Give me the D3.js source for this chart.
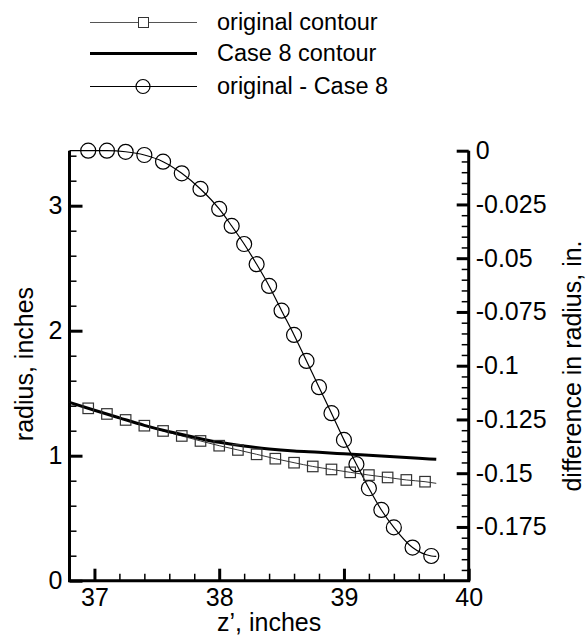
<!DOCTYPE html>
<html><head><meta charset="utf-8">
<script src="https://cdn.jsdelivr.net/npm/d3@7"></script>
<style>
html,body{margin:0;padding:0;background:#fff;}
text{font-family:"Liberation Sans",Arial,Helvetica,sans-serif;fill:#000;}
</style></head>
<body><svg id="c" width="586" height="636"></svg>
<script>
// ---- data ----
const seriesNames = ["original contour", "Case 8 contour", "original - Case 8"];
// original contour (squares), left axis
const origX = [36.8, 36.95, 37.10, 37.25, 37.40, 37.55, 37.70, 37.85, 38.00, 38.15, 38.30, 38.45, 38.60, 38.75, 38.90, 39.05, 39.20, 39.35, 39.50, 39.65, 39.74];
const origY = [1.424, 1.379, 1.334, 1.286, 1.240, 1.198, 1.158, 1.118, 1.080, 1.046, 1.011, 0.976, 0.944, 0.914, 0.890, 0.867, 0.845, 0.826, 0.806, 0.792, 0.779];
const origMarker = [false, true, true, true, true, true, true, true, true, true, true, true, true, true, true, true, true, true, true, true, false];
// Case 8 contour (thick line), left axis
const caseX = [36.8, 37.0, 37.2, 37.4, 37.6, 37.8, 38.0, 38.2, 38.4, 38.6, 38.8, 39.0, 39.2, 39.4, 39.6, 39.74];
const caseY = [1.427, 1.364, 1.303, 1.243, 1.191, 1.147, 1.107, 1.077, 1.053, 1.037, 1.027, 1.015, 1.003, 0.991, 0.979, 0.971];
// difference (circles), right axis
const diffX = [36.8, 36.95, 37.10, 37.25, 37.40, 37.55, 37.70, 37.85, 38.00, 38.10, 38.20, 38.30, 38.40, 38.50, 38.60, 38.70, 38.80, 38.90, 39.00, 39.10, 39.20, 39.30, 39.40, 39.55, 39.70, 39.74];
const diffY = [0, 0, 0, -0.0005, -0.0020, -0.0051, -0.0105, -0.0178, -0.0271, -0.0350, -0.0434, -0.0528, -0.0629, -0.0744, -0.0857, -0.0978, -0.1100, -0.1221, -0.1345, -0.1458, -0.1570, -0.1671, -0.1752, -0.1846, -0.1885, -0.1887];
const diffMarker = diffX.map((d, i) => i > 0 && i < diffX.length - 1);

const xTicks = [37, 38, 39, 40];
const yLeftTicks = [0, 1, 2, 3];
const yRightTicks = [0, -0.025, -0.05, -0.075, -0.1, -0.125, -0.15, -0.175];
const yRightLabels = ["0", "-0.025", "-0.05", "-0.075", "-0.1", "-0.125", "-0.15", "-0.175"];
const xTitle = "z\u2019, inches";
const yLeftTitle = "radius, inches";
const yRightTitle = "difference in radius, in.";

// ---- layout ----
const L = 69.5, R = 468.7, T = 150.7, B = 580.7;
const svg = d3.select("#c");
const x = d3.scaleLinear().domain([36.8, 40]).range([L, R]);
const yl = d3.scaleLinear().domain([0, 3.44]).range([B, T]);
const yr = d3.scaleLinear().domain([-0.2, 0]).range([B, T]);

const tickFont = 25;

function styleAxis(g, w) {
  g.select(".domain").remove();
  g.selectAll(".tick line").attr("stroke", "#000").attr("stroke-width", w);
  g.selectAll(".tick text").style("font-size", tickFont + "px").attr("fill", "#000");
}

// minor ticks
const xMinor = d3.range(36.8, 40.0001, 0.2).filter(v => Math.abs(v - Math.round(v)) > 1e-6);
const ylMinor = d3.range(0.2, 3.44, 0.2).filter(v => Math.abs(v - Math.round(v)) > 1e-6);
const yrMinor = d3.range(-0.2, 0.0001, 0.005).filter(v => Math.abs(v / 0.025 - Math.round(v / 0.025)) > 1e-6);

svg.append("g").attr("transform", `translate(0,${B})`)
  .call(d3.axisBottom(x).tickValues(xMinor).tickSize(-7).tickFormat(""))
  .call(g => styleAxis(g, 1.5));
svg.append("g").attr("transform", `translate(0,${B})`)
  .call(d3.axisBottom(x).tickValues(xTicks).tickSize(-12).tickSizeOuter(0).tickPadding(8).tickFormat(d3.format("d")))
  .call(g => styleAxis(g, 3));

svg.append("g").attr("transform", `translate(${L},0)`)
  .call(d3.axisLeft(yl).tickValues(ylMinor).tickSize(-7).tickFormat(""))
  .call(g => styleAxis(g, 1.5));
svg.append("g").attr("transform", `translate(${L},0)`)
  .call(d3.axisLeft(yl).tickValues(yLeftTicks).tickSize(-13).tickPadding(7).tickFormat(d3.format("d")))
  .call(g => styleAxis(g, 3));

svg.append("g").attr("transform", `translate(${R},0)`)
  .call(d3.axisRight(yr).tickValues(yrMinor).tickSize(-7).tickFormat(""))
  .call(g => styleAxis(g, 1.5));
svg.append("g").attr("transform", `translate(${R},0)`)
  .call(d3.axisRight(yr).tickValues(yRightTicks).tickSize(-12).tickPadding(7).tickFormat((d, i) => yRightLabels[i]))
  .call(g => styleAxis(g, 3));

// axis lines
svg.append("path").attr("d", `M${L},${T}V${B}H${R}V${T}`)
  .attr("fill", "none").attr("stroke", "#000").attr("stroke-width", 3);

// ---- series ----
const curve = d3.curveMonotoneX;
const lineOrig = d3.line().x(i => x(origX[i])).y(i => yl(origY[i])).curve(curve);
const lineCase = d3.line().x(i => x(caseX[i])).y(i => yl(caseY[i])).curve(curve);
const lineDiff = d3.line().x(i => x(diffX[i])).y(i => yr(diffY[i])).curve(curve);

svg.append("path").attr("d", lineOrig(d3.range(origX.length)))
  .attr("fill", "none").attr("stroke", "#333").attr("stroke-width", 1);
svg.append("path").attr("d", lineCase(d3.range(caseX.length)))
  .attr("fill", "none").attr("stroke", "#000").attr("stroke-width", 3);
svg.append("path").attr("d", lineDiff(d3.range(diffX.length)))
  .attr("fill", "none").attr("stroke", "#000").attr("stroke-width", 1.2);

const sq = 10.5;
svg.append("g").selectAll("rect")
  .data(d3.range(origX.length).filter(i => origMarker[i]))
  .join("rect")
  .attr("x", i => x(origX[i]) - sq / 2).attr("y", i => yl(origY[i]) - sq / 2)
  .attr("width", sq).attr("height", sq)
  .attr("fill", "none").attr("stroke", "#333").attr("stroke-width", 1.2);

svg.append("g").selectAll("circle")
  .data(d3.range(diffX.length).filter(i => diffMarker[i]))
  .join("circle")
  .attr("cx", i => x(diffX[i])).attr("cy", i => yr(diffY[i]))
  .attr("r", 7.5)
  .attr("fill", "none").attr("stroke", "#000").attr("stroke-width", 1.2);

// ---- titles ----
svg.append("text").attr("x", (L + R) / 2).attr("y", 631).attr("text-anchor", "middle")
  .style("font-size", "25px").text(xTitle);
svg.append("text").attr("transform", `translate(33,${364}) rotate(-90)`).attr("text-anchor", "middle")
  .style("font-size", "25px").text(yLeftTitle);
svg.append("text").attr("transform", `translate(581,${366}) rotate(-90)`).attr("text-anchor", "middle")
  .style("font-size", "25px").text(yRightTitle);

// ---- legend ----
const legY = [22, 53, 86];
const lg = svg.append("g");
seriesNames.forEach((name, i) => {
  const yy = legY[i];
  lg.append("line").attr("x1", 90).attr("x2", 197).attr("y1", yy + 0.5).attr("y2", yy + 0.5)
    .attr("stroke", i === 0 ? "#555" : "#000").attr("stroke-width", i === 1 ? 3 : 1);
  if (i === 0) lg.append("rect").attr("x", 138.5).attr("y", yy - 4.5).attr("width", 10).attr("height", 10)
    .attr("fill", "#fff").attr("stroke", "#333").attr("stroke-width", 1);
  if (i === 2) lg.append("circle").attr("cx", 143).attr("cy", yy + 0.5).attr("r", 7)
    .attr("fill", "none").attr("stroke", "#000").attr("stroke-width", 1.2);
  lg.append("text").attr("x", 217).attr("y", yy).attr("dy", "0.35em")
    .style("font-size", "23.5px").text(name);
});
</script></body></html>
